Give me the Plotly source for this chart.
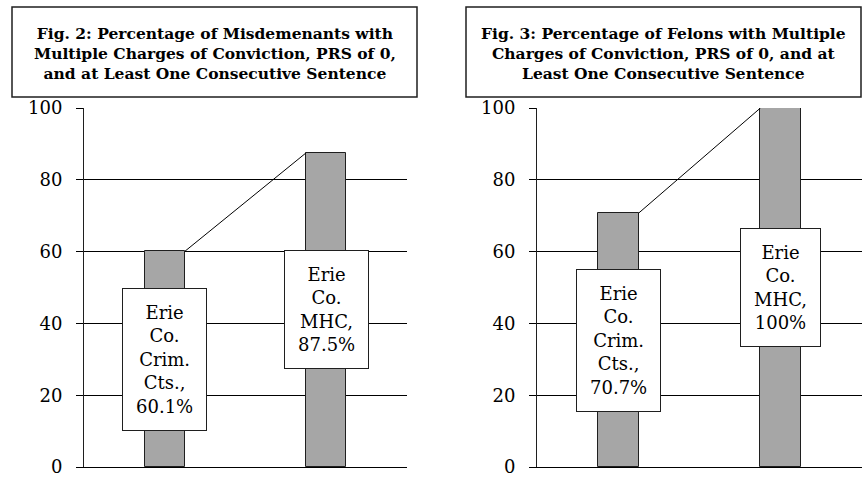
import plotly.graph_objects as go

# ---- data ----
categories = ["Erie Co. Crim. Cts.", "Erie Co. MHC"]
misdemeanant_pct = [60.1, 87.5]
felon_pct = [70.7, 100.0]
panel_titles = [
    "Fig. 2: Percentage of Misdemenants with<br>Multiple Charges of Conviction, PRS of 0,<br>and at Least One Consecutive Sentence",
    "Fig. 3: Percentage of Felons with Multiple<br>Charges of Conviction, PRS of 0, and at<br>Least One Consecutive Sentence",
]
y_ticks = [0, 20, 40, 60, 80, 100]

# ---- styling ----
W, H = 862, 477
SERIF = "DejaVu Serif"
BAR_COLOR = "#a6a6a6"
EDGE = "#1f1f1f"
bar_w = 0.25


def px_x(p):
    return p / W


def px_y(p):
    return (H - p) / H


def label_text(cat, v):
    words = cat.split(" ")
    words[-1] = words[-1] + ","
    return "<br>".join(words + [f"{v:g}%"])


fig = go.Figure()
xs = list(range(len(categories)))
panels = [
    (misdemeanant_pct, "x", "y", [px_x(84), px_x(407)], (12, 417)),
    (felon_pct, "x2", "y2", [px_x(537), 1.0], (466, 861)),
]

annotations = []
shapes = []
for i, (vals, xa, ya, dom, tbox) in enumerate(panels):
    fig.add_trace(go.Bar(
        x=xs, y=vals, width=bar_w,
        marker=dict(color=BAR_COLOR, line=dict(color=EDGE, width=1)),
        xaxis=xa, yaxis=ya, hoverinfo="skip",
    ))
    fig.add_trace(go.Scatter(
        x=[xs[0] + bar_w / 2, xs[1] - bar_w / 2], y=vals,
        mode="lines", line=dict(color="black", width=1),
        xaxis=xa, yaxis=ya, hoverinfo="skip",
    ))
    for xi, cat, v in zip(xs, categories, vals):
        annotations.append(dict(
            x=xi, y=v / 2, xref=xa, yref=ya, text=label_text(cat, v),
            showarrow=False, xanchor="center", yanchor="middle",
            font=dict(family=SERIF, size=18, color="black"),
            bgcolor="white", bordercolor=EDGE, borderwidth=1, borderpad=13,
        ))
    # title box
    shapes.append(dict(
        type="rect", xref="paper", yref="paper",
        x0=px_x(tbox[0]), x1=px_x(tbox[1]), y0=px_y(97), y1=px_y(7),
        line=dict(color=EDGE, width=1.5), fillcolor="white",
    ))
    annotations.append(dict(
        x=px_x((tbox[0] + tbox[1]) / 2), y=px_y(53), xref="paper", yref="paper",
        text=panel_titles[i], showarrow=False, xanchor="center", yanchor="middle",
        font=dict(family=SERIF, size=15.5, color="black", weight="bold"),
    ))

    s = "" if i == 0 else "2"
    fig.update_layout(**{
        f"xaxis{s}": dict(
            domain=dom, range=[-0.5, 1.5], showgrid=False, zeroline=False,
            showticklabels=False, showline=True, linecolor="black", linewidth=1,
            ticks="", anchor=f"y{s}", automargin=False,
        ),
        f"yaxis{s}": dict(
            domain=[px_y(467), px_y(108)], range=[0, 100], tickvals=y_ticks,
            showgrid=True, gridcolor="black", gridwidth=1, zeroline=False,
            showline=True, linecolor=EDGE, linewidth=1,
            ticks="outside", ticklen=7, tickcolor="black",
            tickfont=dict(family=SERIF, size=18, color="black"),
            ticklabelstandoff=10, ticklabeloverflow="allow", anchor=f"x{s}",
            automargin=False,
        ),
    })

fig.update_layout(
    width=W, height=H, margin=dict(l=0, r=0, t=0, b=0, autoexpand=False),
    paper_bgcolor="white", plot_bgcolor="white", showlegend=False,
    annotations=annotations, shapes=shapes, bargap=0,
)

fig.write_html("out.html", config={"displayModeBar": False},
               post_script="document.body.style.margin='0';")
